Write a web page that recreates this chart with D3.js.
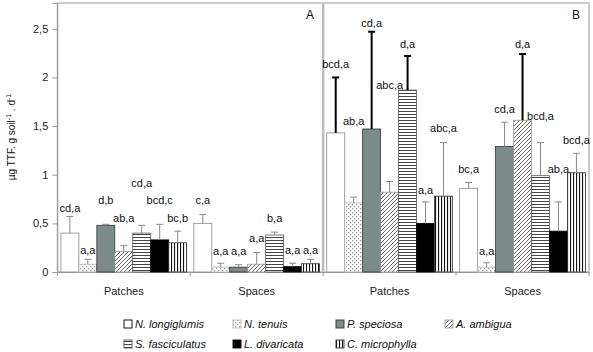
<!DOCTYPE html>
<html>
<head>
<meta charset="utf-8">
<script src="https://cdn.jsdelivr.net/npm/d3@7"></script>
<style>
  body { margin: 0; background: #fff; }
  svg text { font-family: "Liberation Sans", Arial, sans-serif; }
</style>
</head>
<body>
<div id="container"></div>
<script>
let w = 593;
let h = 352;

// data
let groups = ["A-Patches", "A-Spaces", "B-Patches", "B-Spaces"];
let groupLabels = ["Patches", "Spaces", "Patches", "Spaces"];
let species = ["N. longiglumis", "N. tenuis", "P. speciosa", "A. ambigua",
               "S. fasciculatus", "L. divaricata", "C. microphylla"];

let meanAPatches = [0.40, 0.08, 0.48, 0.21, 0.40, 0.33, 0.30];
let errAPatches  = [0.17, 0.05, 0.01, 0.06, 0.08, 0.16, 0.12];
let meanASpaces  = [0.50, 0.05, 0.05, 0.08, 0.38, 0.055, 0.085];
let errASpaces   = [0.09, 0.04, 0.025, 0.12, 0.03, 0.035, 0.045];
let meanBPatches = [1.43, 0.71, 1.47, 0.82, 1.87, 0.50, 0.78];
let errBPatches  = [0.57, 0.06, 1.00, 0.11, 0.35, 0.22, 0.55];
let meanBSpaces  = [0.86, 0.05, 1.29, 1.56, 0.99, 0.42, 1.02];
let errBSpaces   = [0.06, 0.045, 0.25, 0.68, 0.34, 0.30, 0.20];

let lettersAPatches = ["cd,a", "a,a", "d,b", "ab,a", "cd,a", "bcd,c", "bc,b"];
let lettersASpaces  = ["c,a", "a,a", "a,a", "a,a", "b,a", "a,a", "a,a"];
let lettersBPatches = ["bcd,a", "ab,a", "cd,a", "abc,a", "d,a", "a,a", "abc,a"];
let lettersBSpaces  = ["bc,a", "a,a", "cd,a", "d,a", "bcd,a", "ab,a", "bcd,a"];

let yTicks = [0, 0.5, 1, 1.5, 2, 2.5];

// layout only: how far (px) each letter label sits above its error bar
let labelLift = [
  [8, 9, 24, 28, 42, 24, 13],
  [14, 12, 14, 14, 14, 13, 9],
  [13, 76, 9, 96, 12, 12, 14],
  [13, 12, 13, 10, 26, 33, 13]
];

let means = [meanAPatches, meanASpaces, meanBPatches, meanBSpaces];
let errs = [errAPatches, errASpaces, errBPatches, errBSpaces];
let letters = [lettersAPatches, lettersASpaces, lettersBPatches, lettersBSpaces];

let rows = [];
groups.forEach((g, gi) => {
  species.forEach((s, si) => {
    rows.push({group: g, gi: gi, sp: s, si: si,
      mean: means[gi][si], err: errs[gi][si], letter: letters[gi][si],
      lift: labelLift[gi][si]});
  });
});

let plotLeft = 57.3, plotRight = 589, plotTop = 3, plotBottom = 272;

let viz = d3.select("#container")
  .append("svg")
  .attr("width", w)
  .attr("height", h)
  .style("background-color", "#fff");

// patterns
let defs = viz.append("defs");
defs.append("pattern").attr("id", "dots").attr("patternUnits", "userSpaceOnUse")
  .attr("width", 4).attr("height", 4)
  .call(p => {
    p.append("rect").attr("width", 4).attr("height", 4).attr("fill", "#fff");
    p.append("rect").attr("x", 0).attr("y", 0).attr("width", 1.3).attr("height", 1.3).attr("fill", "#9a9a9a");
    p.append("rect").attr("x", 2).attr("y", 2).attr("width", 1.3).attr("height", 1.3).attr("fill", "#9a9a9a");
  });
defs.append("pattern").attr("id", "hatch").attr("patternUnits", "userSpaceOnUse")
  .attr("width", 4).attr("height", 4)
  .call(p => {
    p.append("rect").attr("width", 4).attr("height", 4).attr("fill", "#fff");
    p.append("path").attr("d", "M-1,1 l2,-2 M0,4 l4,-4 M3,5 l2,-2")
      .attr("stroke", "#555").attr("stroke-width", 0.9);
  });
defs.append("pattern").attr("id", "hstripe").attr("patternUnits", "userSpaceOnUse")
  .attr("width", 4).attr("height", 3)
  .call(p => {
    p.append("rect").attr("width", 4).attr("height", 3).attr("fill", "#fff");
    p.append("rect").attr("y", 0).attr("width", 4).attr("height", 1).attr("fill", "#444");
  });
defs.append("pattern").attr("id", "vstripe").attr("patternUnits", "userSpaceOnUse")
  .attr("width", 3).attr("height", 4)
  .call(p => {
    p.append("rect").attr("width", 3).attr("height", 4).attr("fill", "#fff");
    p.append("rect").attr("x", 0).attr("width", 1.1).attr("height", 4).attr("fill", "#111");
  });

let fills = ["#ffffff", "url(#dots)", "#7d8b88", "url(#hatch)", "url(#hstripe)", "#000000", "url(#vstripe)"];
let strokes = ["#8a8a8a", "#b5b5b5", "#333333", "#9a9a9a", "#555555", "#000000", "#333333"];

// scales
let x0 = d3.scaleBand().domain(groups).range([plotLeft, plotRight]).padding(0);
let x1 = d3.scaleBand().domain(species).range([0, x0.bandwidth()])
  .paddingInner(0).paddingOuter(0.2);
let yScale = d3.scaleLinear().domain([0, 2.765]).range([plotBottom, plotTop]);

// frame
viz.append("rect")
  .attr("x", plotLeft).attr("y", plotTop)
  .attr("width", plotRight - plotLeft).attr("height", plotBottom - plotTop)
  .attr("fill", "none").attr("stroke", "#9a9a9a").attr("stroke-width", 1);

// panel divider
viz.append("line")
  .attr("x1", x0("B-Patches")).attr("x2", x0("B-Patches"))
  .attr("y1", plotTop).attr("y2", plotBottom)
  .attr("stroke", "#bdbdbd").attr("stroke-width", 2.5);

// y axis
let yAxis = d3.axisLeft(yScale).tickValues(yTicks).tickSize(5)
  .tickFormat(d => String(d).replace(".", ","));
let yAxisGroup = viz.append("g").attr("transform", "translate(" + plotLeft + ",0)").call(yAxis);
yAxisGroup.select(".domain").attr("stroke", "#9a9a9a");
yAxisGroup.selectAll(".tick line").attr("stroke", "#9a9a9a");
yAxisGroup.selectAll(".tick text").attr("font-size", "11px").attr("fill", "#222")
  .attr("font-family", "Liberation Sans, Arial, sans-serif").attr("x", -9);

// x axis
let xAxis = d3.axisBottom(x0).tickSize(0).tickPadding(15)
  .tickFormat((d, i) => groupLabels[i]);
let xAxisGroup = viz.append("g").attr("transform", "translate(0," + plotBottom + ")").call(xAxis);
xAxisGroup.select(".domain").attr("stroke", "#9a9a9a");
xAxisGroup.selectAll(".tick text").attr("font-size", "11px").attr("fill", "#222")
  .attr("font-family", "Liberation Sans, Arial, sans-serif");
xAxisGroup.selectAll(".boundary")
  .data(groups.concat(["end"]))
  .enter().append("line")
  .attr("x1", d => d === "end" ? plotRight : x0(d))
  .attr("x2", d => d === "end" ? plotRight : x0(d))
  .attr("y1", 0).attr("y2", 4)
  .attr("stroke", "#9a9a9a");

// bars
viz.selectAll(".bar").data(rows).enter().append("rect")
  .attr("class", "bar")
  .attr("x", d => x0(d.group) + x1(d.sp))
  .attr("y", d => yScale(d.mean))
  .attr("width", x1.bandwidth())
  .attr("height", d => yScale(0) - yScale(d.mean))
  .attr("fill", d => fills[d.si])
  .attr("stroke", d => strokes[d.si])
  .attr("stroke-width", 0.8);

// error bars (upper only)
function isBold(d) { return d.mean + d.err > 1.8; }
let errG = viz.selectAll(".err").data(rows).enter().append("g").attr("class", "err");
errG.append("line")
  .attr("x1", d => x0(d.group) + x1(d.sp) + x1.bandwidth() / 2)
  .attr("x2", d => x0(d.group) + x1(d.sp) + x1.bandwidth() / 2)
  .attr("y1", d => yScale(d.mean))
  .attr("y2", d => yScale(d.mean + d.err))
  .attr("stroke", d => isBold(d) ? "#000" : "#8a8a8a")
  .attr("stroke-width", d => isBold(d) ? 2 : 1);
errG.append("line")
  .attr("x1", d => x0(d.group) + x1(d.sp) + x1.bandwidth() / 2 - 3.5)
  .attr("x2", d => x0(d.group) + x1(d.sp) + x1.bandwidth() / 2 + 3.5)
  .attr("y1", d => yScale(d.mean + d.err))
  .attr("y2", d => yScale(d.mean + d.err))
  .attr("stroke", d => isBold(d) ? "#000" : "#8a8a8a")
  .attr("stroke-width", d => isBold(d) ? 2 : 1);

// letter labels
viz.selectAll(".letter").data(rows).enter().append("text")
  .attr("class", "letter")
  .attr("x", d => x0(d.group) + x1(d.sp) + x1.bandwidth() / 2)
  .attr("y", d => yScale(d.mean + d.err) - d.lift)
  .attr("dy", "0.35em")
  .attr("text-anchor", "middle")
  .attr("font-size", "11px")
  .attr("fill", "#111")
  .text(d => d.letter);

// panel letters
viz.append("text").attr("x", 310).attr("y", 19).attr("text-anchor", "middle")
  .attr("font-size", "12px").attr("fill", "#111").text("A");
viz.append("text").attr("x", 576).attr("y", 19).attr("text-anchor", "middle")
  .attr("font-size", "12px").attr("fill", "#111").text("B");

// y label
let yl = viz.append("text")
  .attr("transform", "translate(15,137) rotate(-90)")
  .attr("text-anchor", "middle")
  .attr("font-size", "10px")
  .attr("fill", "#111");
yl.append("tspan").text("µg TTF. g soil");
yl.append("tspan").attr("dy", -4).attr("font-size", "7px").text("-1");
yl.append("tspan").attr("dy", 4).text(" . d");
yl.append("tspan").attr("dy", -4).attr("font-size", "7px").text("-1");

// legend
let legendOrder = [0, 1, 2, 3, 4, 5, 6];
let legendCols = [124, 233, 336, 445];
let legendRows = [324, 344];
let lg = viz.selectAll(".legend").data(legendOrder).enter().append("g")
  .attr("class", "legend")
  .attr("transform", (d, i) => "translate(" + legendCols[i % 4] + "," + legendRows[Math.floor(i / 4)] + ")");
lg.append("rect")
  .attr("x", 0).attr("y", -4).attr("width", 8).attr("height", 8)
  .attr("fill", d => fills[d])
  .attr("stroke", d => d === 0 ? "#000" : strokes[d])
  .attr("stroke-width", 0.9);
lg.append("text")
  .attr("x", 11).attr("y", 0).attr("dy", "0.35em")
  .attr("font-size", "11px").attr("font-style", "italic").attr("fill", "#111")
  .text(d => species[d]);
</script>
</body>
</html>
